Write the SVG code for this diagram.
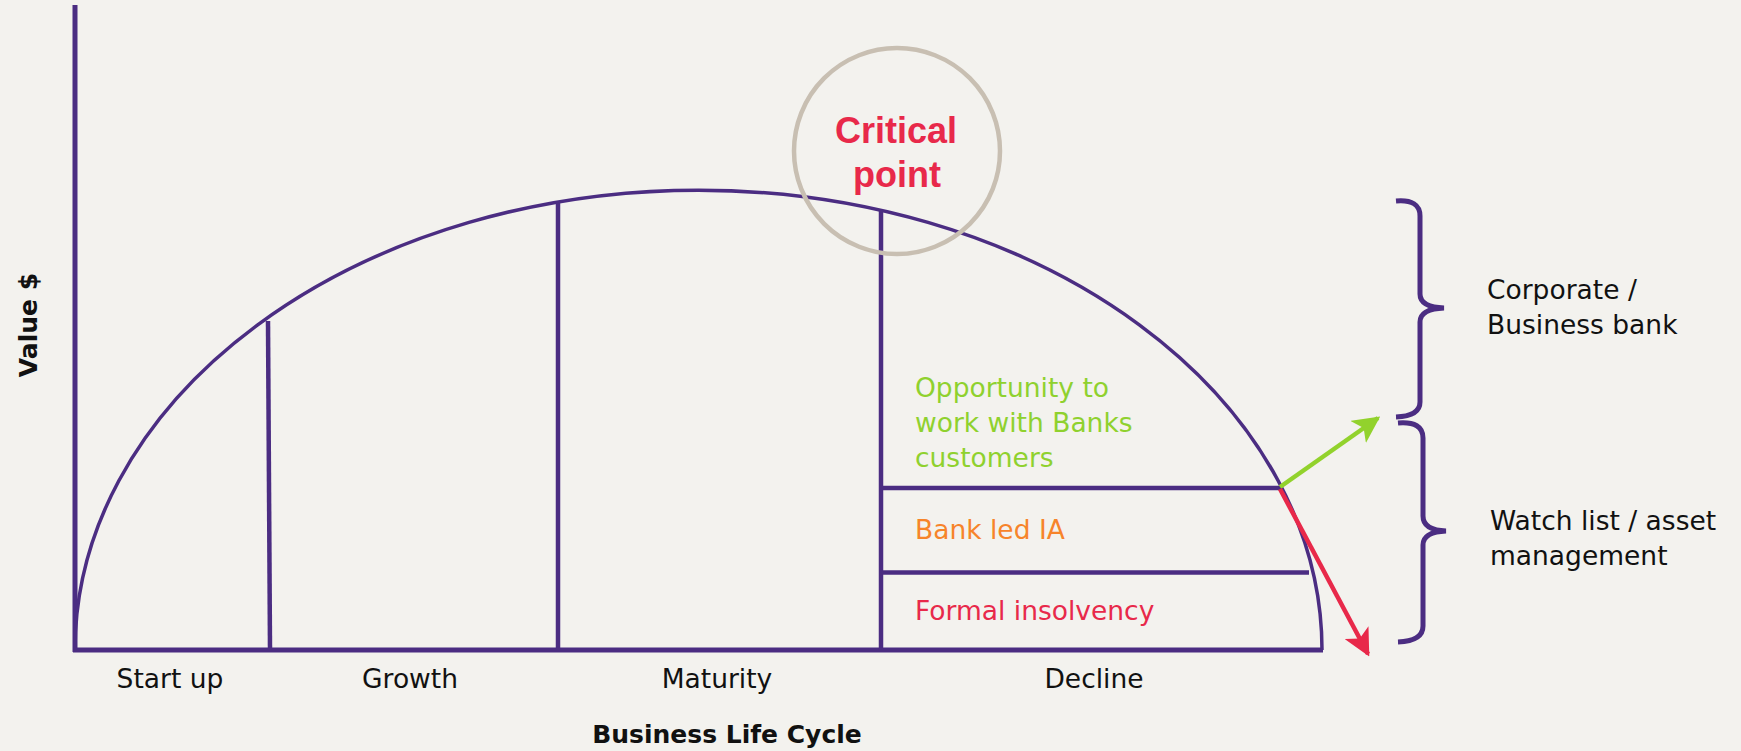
<svg xmlns="http://www.w3.org/2000/svg" width="1741" height="751" viewBox="0 0 1741 751">
  <style>
    .ln { fill: none; stroke: #4b2d82; stroke-linecap: butt; }
    .lbl { font-family: "DejaVu Sans", "Liberation Sans", sans-serif; font-size: 26.5px; fill: #111111; }
    .ttl { font-family: "DejaVu Sans", "Liberation Sans", sans-serif; font-size: 25px; font-weight: bold; fill: #111111; }
    .crit { font-family: "Liberation Sans", Arial, sans-serif; font-size: 36px; font-weight: bold; fill: #e8294a; text-anchor: middle; }
    .mid { text-anchor: middle; }
  </style>
  <defs>
    <marker id="headGreen" viewBox="0 0 10 10" refX="9" refY="5" markerWidth="6" markerHeight="6" orient="auto" markerUnits="strokeWidth">
      <path d="M0,0 L10,5 L0,10 L2.5,5 z" fill="#92d22c"/>
    </marker>
    <marker id="headRed" viewBox="0 0 10 10" refX="9" refY="5" markerWidth="6" markerHeight="6" orient="auto" markerUnits="strokeWidth">
      <path d="M0,0 L10,5 L0,10 L2.5,5 z" fill="#e8294a"/>
    </marker>
  </defs>

  <rect width="1741" height="751" fill="#f3f2ee"/>

  <!-- axes -->
  <g id="axes">
    <line class="ln" x1="75" y1="5" x2="75" y2="652" stroke-width="5"/>
    <line class="ln" x1="73" y1="650" x2="1323" y2="650" stroke-width="5"/>
    <text class="ttl mid" transform="translate(37,325) rotate(-90)">Value $</text>
    <text class="ttl mid" x="727" y="743">Business Life Cycle</text>
  </g>

  <!-- life cycle curve -->
  <g id="curve">
    <path class="ln" d="M75,650 A623.5,460 0 0 1 1322,650" stroke-width="3.5"/>
  </g>

  <!-- stage dividers -->
  <g id="stages">
    <line class="ln" x1="268" y1="321" x2="270" y2="650" stroke-width="4.5"/>
    <line class="ln" x1="558" y1="201" x2="558" y2="650" stroke-width="4.5"/>
    <line class="ln" x1="881" y1="210" x2="881" y2="650" stroke-width="4.5"/>
    <line class="ln" x1="881" y1="488" x2="1281" y2="488" stroke-width="4.5"/>
    <line class="ln" x1="881" y1="572.5" x2="1309" y2="572.5" stroke-width="4.5"/>
  </g>

  <!-- stage labels -->
  <g id="stage-labels">
    <text class="lbl mid" x="170" y="688">Start up</text>
    <text class="lbl mid" x="410" y="688">Growth</text>
    <text class="lbl mid" x="717" y="688">Maturity</text>
    <text class="lbl mid" x="1094" y="688">Decline</text>
  </g>

  <!-- critical point marker -->
  <g id="critical-point">
    <circle cx="897" cy="151" r="103" fill="none" stroke="#c8bfb2" stroke-width="4.5"/>
    <text class="crit" x="896" y="143">Critical</text>
    <text class="crit" x="897" y="187">point</text>
  </g>

  <!-- decline bands -->
  <g id="decline-bands">
    <text class="lbl" x="915" y="397" fill="#8fd12e" style="fill:#8fd12e">Opportunity to</text>
    <text class="lbl" x="915" y="432" style="fill:#8fd12e">work with Banks</text>
    <text class="lbl" x="915" y="467" style="fill:#8fd12e">customers</text>
    <text class="lbl" x="915" y="539" style="fill:#f7842a">Bank led IA</text>
    <text class="lbl" x="915" y="620" style="fill:#e8294a">Formal insolvency</text>
  </g>

  <!-- connectors -->
  <g id="connectors">
    <line x1="1280" y1="487" x2="1378" y2="418" stroke="#92d22c" stroke-width="4.5" marker-end="url(#headGreen)"/>
    <line x1="1280" y1="489" x2="1368" y2="654" stroke="#e8294a" stroke-width="4.5" marker-end="url(#headRed)"/>
  </g>

  <!-- brackets -->
  <g id="bracket-corporate">
    <path class="ln" stroke-width="5" d="M1396,201 Q1420,199 1420,216 V294 Q1420,307 1444,308 Q1420,309 1420,322 V402 Q1420,416 1396,417"/>
    <text class="lbl" x="1487" y="299">Corporate /</text>
    <text class="lbl" x="1487" y="334">Business bank</text>
  </g>
  <g id="bracket-watchlist">
    <path class="ln" stroke-width="5" d="M1398,423 Q1423,421 1423,438 V516 Q1423,530 1446,531 Q1423,532 1423,545 V626 Q1423,641 1398,642"/>
    <text class="lbl" x="1490" y="530">Watch list / asset</text>
    <text class="lbl" x="1490" y="565">management</text>
  </g>
</svg>
